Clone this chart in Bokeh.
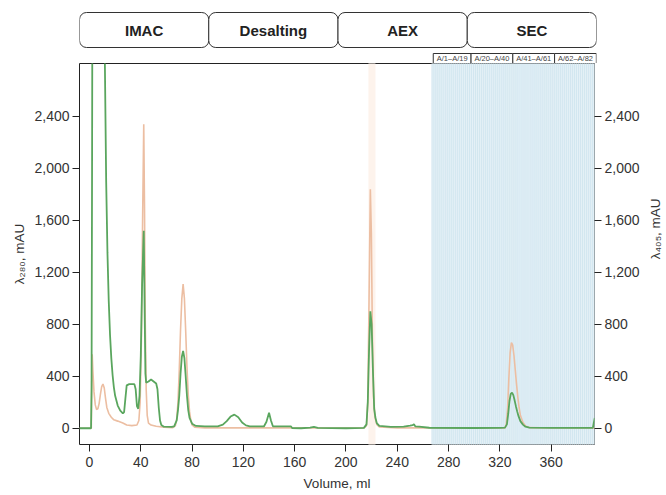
import math
import numpy as np
from bokeh.plotting import figure
from bokeh.models import Range1d, LinearAxis, FixedTicker, NumeralTickFormatter, ColumnDataSource
from bokeh.layouts import column, row
from bokeh.embed import file_html
from bokeh.resources import INLINE
from bokeh.core.properties import value

# ---------------- data ----------------
stages = ["IMAC", "Desalting", "AEX", "SEC"]
fraction_groups = ["A/1–A/19", "A/20–A/40", "A/41–A/61", "A/62–A/82"]
fraction_group_first = [1, 20, 41, 62]
fraction_group_last = [19, 40, 61, 82]
fraction_start_ml = 267.0
fraction_width_ml = 1.545
aex_pool_ml = [217.5, 223.0]

x_ticks = [0, 40, 80, 120, 160, 200, 240, 280, 320, 360]
y_ticks = [0, 400, 800, 1200, 1600, 2000, 2400]

green_volume = [-8, 0, 1.2, 1.6, 2.0, 2.3, 11.5, 12, 13, 14, 15, 16, 17, 18, 19, 20, 22, 24, 26, 27, 28, 29, 31, 35,
                36, 37, 38, 39, 40, 41, 42.3, 43, 43.6, 44.2, 46, 48, 50, 52, 53, 54, 55, 56, 58, 64, 66, 68, 69, 70,
                71, 72, 73, 74, 75, 76, 77, 78, 80, 83, 90, 100, 104, 107, 110, 113, 116, 119, 122, 125, 136, 138,
                140, 141.5, 143, 150, 157, 158, 165, 172, 175, 178, 200, 214, 216, 217, 218, 219, 220, 221, 222, 223,
                224, 226, 235, 245, 250, 252, 253, 254, 257, 265, 300, 320, 324, 325.5, 326.5, 327.5, 328.5, 329.5,
                330.5, 331.5, 332.5, 333.5, 334.5, 336, 338, 340, 343, 360, 392.5, 393.2, 394]
green_mau = [0, 0, 0, 300, 2000, 3600, 3600, 2800, 1900, 1350, 980, 720, 540, 410, 315, 250, 175, 135, 115, 125, 230,
             330, 340, 340, 300, 170, 150, 250, 560, 1100, 1520, 900, 420, 350, 360, 375, 360, 345, 300, 160, 60, 25,
             12, 10, 15, 60, 140, 250, 420, 550, 595, 540, 400, 250, 140, 80, 35, 18, 15, 15, 28, 55, 90, 105, 85,
             45, 22, 15, 14, 50, 120, 60, 15, 15, 15, 2, 0, 5, 10, 3, 0, 3, 30, 200, 600, 900, 800, 450, 150, 80,
             40, 18, 10, 12, 20, 25, 30, 15, 12, 4, 2, 3, 5, 30, 110, 210, 265, 275, 255, 215, 170, 130, 95, 55, 28,
             12, 5, 3, 3, 40, 80]

orange_volume = [-8, 0, 1.4, 1.8, 2.1, 2.6, 3.5, 4.5, 5.5, 6.5, 7.5, 8.5, 9.5, 10.5, 11.5, 12.5, 13.5, 15, 17, 19, 22,
                 26, 29, 33, 37, 38.5, 39.5, 40.5, 41.4, 42.3, 42.9, 43.5, 44.2, 45, 46, 48, 52, 58, 65, 67, 68, 69,
                 70, 71, 72, 73, 74, 75, 76, 77, 78, 79, 80, 82, 90, 214, 216, 217, 218, 219, 219.8, 220.6, 221.5,
                 222.5, 224, 226, 240, 324, 325, 326, 327, 328, 329, 330, 331, 332, 333, 334, 335, 336, 338, 340, 343,
                 360, 394]
orange_mau = [0, 0, 0, 400, 570, 450, 280, 180, 145, 150, 190, 260, 320, 340, 310, 230, 160, 115, 85, 65, 55, 40, 25,
              20, 25, 60, 200, 700, 1600, 2340, 1700, 800, 300, 100, 40, 25, 15, 8, 5, 20, 70, 200, 450, 760, 1000,
              1110, 1000, 750, 470, 260, 130, 60, 25, 8, 3, 2, 20, 200, 1000, 1840, 1500, 700, 250, 90, 30, 10, 3, 3,
              30, 150, 380, 580, 660, 640, 560, 450, 340, 240, 160, 100, 45, 18, 5, 2, 2]

right_axis_title = "λ₄₀₅, mAU"

# ---------------- layout constants ----------------
X_MIN, X_MAX = -7.8, 393.8
Y_MIN, Y_MAX = -125, 2808
W = 664
SIDE_W = 20
BL = 79
BR_TOP = 68
BR_MAIN = 50
TOP_H = 63
MAIN_H = 431
FONT = "Liberation Sans"
TXT = "#333333"

# ---------------- top strip (stages + fraction labels) ----------------
t = figure(width=W, height=TOP_H, x_range=Range1d(X_MIN, X_MAX), y_range=Range1d(0, TOP_H),
           output_backend="svg", toolbar_location=None, x_axis_location=None, y_axis_location=None,
           min_border=0, min_border_left=BL, min_border_right=BR_TOP, min_border_top=0, min_border_bottom=0)
t.outline_line_color = None
t.grid.visible = False
t.background_fill_color = "white"
t.border_fill_color = "white"

edges = np.linspace(X_MIN, X_MAX, len(stages) + 1)
stage_src = ColumnDataSource(dict(left=edges[:-1], right=edges[1:], cx=(edges[:-1] + edges[1:]) / 2, name=stages))
t.quad(left="left", right="right", bottom=16, top=51, source=stage_src, fill_color="white",
       line_color="#333333", line_width=1, border_radius=7)
t.text(x="cx", y=33.5, text="name", source=stage_src, text_align="center", text_baseline="middle",
       text_font=value(FONT), text_font_size="15px", text_font_style="bold", text_color="#222222")

fl = fraction_start_ml + (np.array(fraction_group_first) - 1) * fraction_width_ml
fr = fraction_start_ml + np.array(fraction_group_last) * fraction_width_ml
frac_src = ColumnDataSource(dict(left=fl, right=fr, cx=(fl + fr) / 2, name=fraction_groups))
t.quad(left="left", right="right", bottom=0, top=10, source=frac_src, fill_color="white",
       line_color="#333333", line_width=1)
t.text(x="cx", y=5, text="name", source=frac_src, text_align="center", text_baseline="middle",
       text_font=value(FONT), text_font_size="7.5px", text_color="#444444")

# ---------------- main chart ----------------
p = figure(width=W - SIDE_W, height=MAIN_H, x_range=t.x_range, y_range=Range1d(Y_MIN, Y_MAX),
           output_backend="svg", toolbar_location=None,
           min_border=0, min_border_left=BL, min_border_right=BR_MAIN, min_border_top=0, min_border_bottom=50)
p.grid.visible = False
p.outline_line_color = "#222222"
p.outline_line_width = 1
p.background_fill_color = "white"
p.border_fill_color = "white"

# SEC fractions shading
n_frac = fraction_group_last[-1]
f_edges = fraction_start_ml + np.arange(n_frac + 1) * fraction_width_ml
p.quad(left=fraction_start_ml, right=X_MAX + 5, bottom=Y_MIN - 50, top=Y_MAX + 50,
       fill_color="#e5f1f7", line_color=None)
p.segment(x0=f_edges, x1=f_edges, y0=Y_MIN - 50, y1=Y_MAX + 50, line_color="#cde3ee", line_width=0.8)

# AEX pooled band
p.quad(left=aex_pool_ml[0], right=aex_pool_ml[1], bottom=Y_MIN - 50, top=Y_MAX + 50,
       fill_color="#fdf3ec", line_color=None)

p.line(orange_volume, orange_mau, line_color="#ecbea2", line_width=1.6)
p.line(green_volume, green_mau, line_color="#5aa65e", line_width=1.8)

fmt = NumeralTickFormatter(format="0,0")
p.xaxis.ticker = FixedTicker(ticks=x_ticks)
p.yaxis.ticker = FixedTicker(ticks=y_ticks)
p.yaxis.formatter = fmt
p.xaxis.axis_label = "Volume, ml"
p.yaxis.axis_label = "λ₂₈₀, mAU"

right = LinearAxis(ticker=FixedTicker(ticks=y_ticks), formatter=fmt)
p.add_layout(right, "right")

for ax in [p.xaxis[0], p.yaxis[0], right]:
    ax.axis_line_color = None
    ax.major_tick_line_color = "#222222"
    ax.major_tick_in = 0
    ax.major_tick_out = 7
    ax.minor_tick_line_color = None
    ax.major_label_text_font = FONT
    ax.major_label_text_font_size = "14px"
    ax.major_label_text_color = TXT
    ax.major_label_standoff = 3
    ax.axis_label_text_font = FONT
    ax.axis_label_text_font_size = "13.5px"
    ax.axis_label_text_font_style = "normal"
    ax.axis_label_text_color = TXT
    ax.axis_label_standoff = 4

p.xaxis[0].major_label_standoff = 5
p.xaxis[0].axis_label_standoff = 6

# ---------------- right-axis title strip ----------------
s = figure(width=SIDE_W, height=MAIN_H, x_range=Range1d(0, SIDE_W), y_range=Range1d(0, MAIN_H),
           output_backend="svg", toolbar_location=None, x_axis_location=None, y_axis_location=None,
           min_border=0, min_border_left=0, min_border_right=0, min_border_top=0, min_border_bottom=0)
s.outline_line_color = None
s.grid.visible = False
s.text(x=[SIDE_W / 2 + 1], y=[MAIN_H - 187], text=[right_axis_title], angle=math.pi / 2,
       text_align="center", text_baseline="middle", text_font=value(FONT), text_font_size="13.5px",
       text_color=TXT)

layout = column(t, row(p, s, spacing=0), spacing=0)
open("out.html", "w").write(file_html(layout, INLINE))
